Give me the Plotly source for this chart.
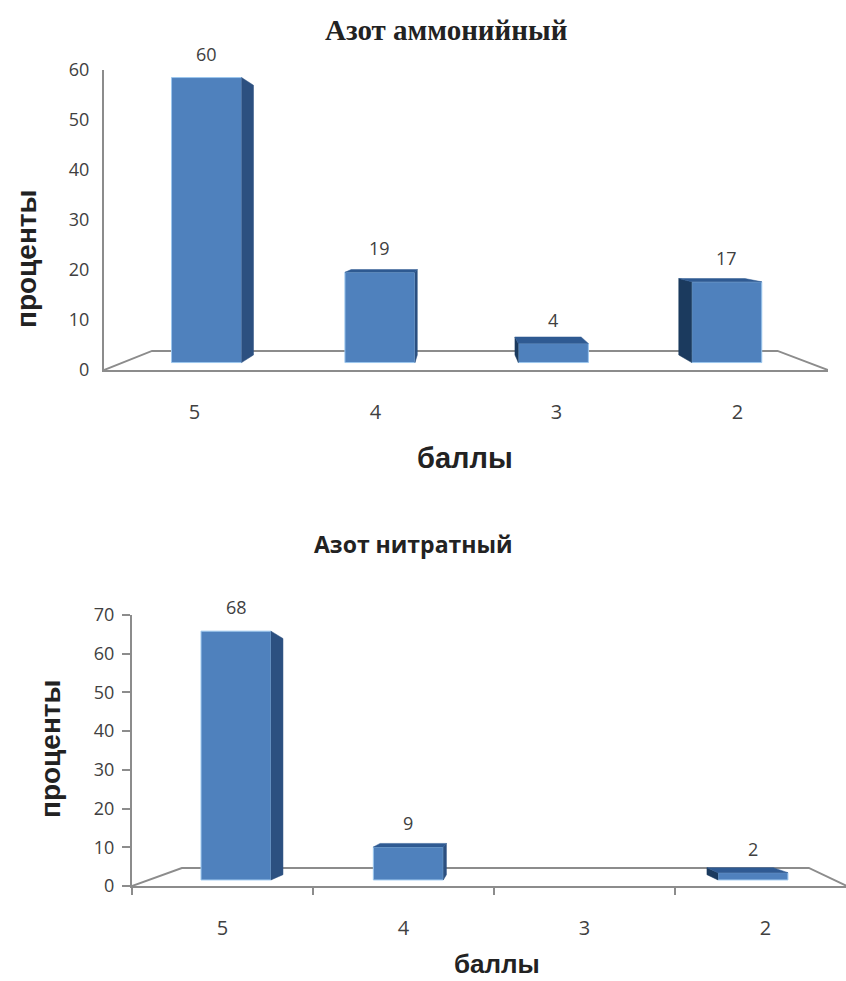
import plotly.graph_objects as go

# ---- data ----
categories = ["5", "4", "3", "2"]
ammonium_values = [60, 19, 4, 17]
nitrate_values = [68, 9, None, 2]
ammonium_yticks = [0, 10, 20, 30, 40, 50, 60]
nitrate_yticks = [0, 10, 20, 30, 40, 50, 60, 70]
ammonium_title = "Азот аммонийный"
nitrate_title = "Азот нитратный"
y_label = "проценты"
x_label = "баллы"

# ---- style ----
W, H = 846, 981
FRONT = "#4F81BD"
EDGE = "#9CC7EE"
SIDE_R = "#2C5080"
SIDE_L = "#1B3A5E"
TOP = "#2F5A92"
AXIS = "#8C8C8C"
TEXT = "#404040"
SANS = "Open Sans, Liberation Sans, sans-serif"
BOLD = "Liberation Sans, Arial, sans-serif"

fig = go.Figure()


def draw(values, n, xpx, ypx, yrange, yticks, vp, front_s, back_s, floor_s, bar_w, shift, show_ticks):
    xa, ya = ("xaxis", "yaxis") if n == 1 else (f"xaxis{n}", f"yaxis{n}")
    xr, yr = ("x", "y") if n == 1 else (f"x{n}", f"y{n}")
    xmax = (xpx[1] - xpx[0]) / 181.0
    vx, vy = vp

    def proj(x, y, s):
        return vx + s[0] * (x - vx), vy + s[1] * (y - vy)

    # floor behind the bars
    a = proj(0, 0, floor_s)
    b = proj(xmax if n == 1 else 4, 0, floor_s)
    c = (xmax if n == 1 else 3.95, 0)
    fig.add_shape(type="path", xref=xr, yref=yr, layer="below",
                  path=f"M 0 0 L {a[0]} {a[1]} L {b[0]} {b[1]} L {c[0]} {c[1]}",
                  line=dict(color=AXIS, width=2))

    xs, bases, heights, labels = [], [], [], []
    for i, v in enumerate(values):
        if v is None:
            continue
        c0 = i + 0.5 + shift
        l, r = c0 - bar_w / 2, c0 + bar_w / 2
        fl, fb = proj(l, 0, front_s)
        fr, ft = proj(r, v, front_s)
        bl, bb = proj(l, 0, back_s)
        br, bt = proj(r, v, back_s)
        xs.append((fl + fr) / 2)
        bases.append(fb)
        heights.append(ft - fb)
        labels.append(((fl + fr) / 2, ft, str(v)))
        # side face
        if fr < vx:
            fx, col = [fr, br, br, fr, fr], SIDE_R
        else:
            fx, col = [fl, bl, bl, fl, fl], SIDE_L
        fy = [ft, bt, bb, fb, ft]
        fig.add_trace(go.Scatter(x=fx, y=fy, xaxis=xr, yaxis=yr, mode="lines", fill="toself",
                                 fillcolor=col, line=dict(color=col, width=0.5), hoverinfo="skip",
                                 showlegend=False))
        # top face
        if bt > ft:
            fig.add_trace(go.Scatter(x=[fl, bl, br, fr, fl], y=[ft, bt, bt, ft, ft], xaxis=xr, yaxis=yr,
                                     mode="lines", fill="toself", fillcolor=TOP,
                                     line=dict(color=TOP, width=0.5), hoverinfo="skip", showlegend=False))
    width = bar_w * front_s[0]
    fig.add_trace(go.Bar(x=xs, y=heights, base=bases, width=width, xaxis=xr, yaxis=yr,
                         marker=dict(color=FRONT, line=dict(color=EDGE, width=1)), showlegend=False))
    for lx, ly, t in labels:
        fig.add_annotation(x=lx, y=ly, xref=xr, yref=yr, text=t, showarrow=False, yshift=24,
                           font=dict(family=SANS, size=18, color=TEXT))

    fig.update_layout({
        xa: dict(domain=[xpx[0] / W, min(xpx[1] / W, 1)], range=[0, xmax], showgrid=False, zeroline=False,
                 automargin=False, showline=True, linecolor=AXIS, linewidth=2,
                 tickmode="array", tickvals=[0.5, 1.5, 2.5, 3.5], ticktext=categories,
                 ticks="", ticklabelstandoff=23, anchor=yr,
                 tickfont=dict(family=SANS, size=20, color=TEXT),
                 minor=dict(tickmode="array", tickvals=[0, 1, 2, 3], ticks="outside" if show_ticks else "",
                            ticklen=7, tickcolor=AXIS, tickwidth=2)),
        ya: dict(domain=[1 - ypx[1] / H, 1 - ypx[0] / H], range=yrange, showgrid=False, zeroline=False,
                 automargin=False, showline=True, linecolor=AXIS, linewidth=2, anchor=xr,
                 tickmode="array", tickvals=yticks,
                 ticks="outside" if show_ticks else "", ticklen=8, tickcolor=AXIS, tickwidth=2,
                 ticklabelstandoff=4 if show_ticks else 9,
                 tickfont=dict(family=SANS, size=18, color=TEXT)),
    })


draw(ammonium_values, 1, (104, 828), (70, 370), [0, 60], ammonium_yticks,
     vp=(1.95, 29.8), front_s=(0.958, 0.95), back_s=(0.905, 0.899), floor_s=(0.864, 0.872),
     bar_w=0.404, shift=0.006, show_ticks=False)
draw(nitrate_values, 2, (132, 846), (615, 886), [0, 70], nitrate_yticks,
     vp=(2.055, 28.4), front_s=(0.952, 0.945), back_s=(0.903, 0.897), floor_s=(0.866, 0.836),
     bar_w=0.406, shift=0, show_ticks=True)


def label(text, x, y, family, size, color="#222222", angle=0):
    fig.add_annotation(x=x / W, y=1 - y / H, xref="paper", yref="paper", text=f"<b>{text}</b>",
                       showarrow=False, textangle=angle, xanchor="center", yanchor="middle",
                       font=dict(family=family, size=size, color=color))


label(ammonium_title, 446, 30, "Liberation Serif, serif", 29)
label(nitrate_title, 413, 544, "Open Sans, sans-serif", 23)
label(y_label, 26, 259, BOLD, 28, angle=-90)
label(y_label, 50, 749, BOLD, 28, angle=-90)
label(x_label, 465, 458, BOLD, 29)
label(x_label, 497, 964, BOLD, 26)

fig.update_layout(template="none", width=W, height=H, margin=dict(l=0, r=0, t=0, b=0, pad=0),
                  paper_bgcolor="white", plot_bgcolor="rgba(0,0,0,0)", barmode="overlay", showlegend=False)
fig.write_html("out.html", config={"displayModeBar": False},
               post_script="document.body.style.margin='0';")
